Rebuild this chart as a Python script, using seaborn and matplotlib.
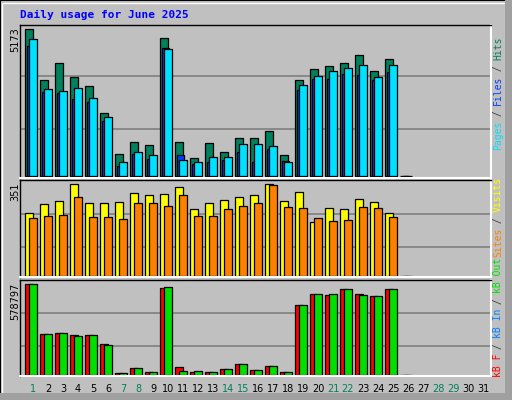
import numpy as np
import matplotlib
matplotlib.use("Agg")
import matplotlib.pyplot as plt
import seaborn as sns
from matplotlib.patches import Rectangle

sns.set_style("white")
plt.rcParams['font.family'] = ['DejaVu Sans']

days = list(range(1, 32))
weekend_days = [1, 7, 8, 14, 15, 21, 22, 28, 29]
max_hits, max_visits, max_kb = 5173, 351, 578797
hits_f = [1.0,.653,.769,.673,.612,.429,.150,.231,.211,.939,.231,.122,.224,.163,.259,.259,.306,.143,.653,.728,.748,.769,.823,.714,.796,0]
files_f = [.887,.571,.565,.524,.503,.374,.068,.150,.116,.871,.143,.082,.095,.109,.163,.095,.184,.102,.585,.660,.660,.694,.687,.653,.707,0]
pages_f = [.932,.592,.578,.599,.531,.401,.095,.163,.143,.864,.109,.095,.129,.129,.218,.218,.204,.095,.619,.680,.714,.735,.755,.673,.755,0]
visits_f = [.684,.782,.815,1.0,.793,.793,.804,.902,.880,.891,.967,.727,.793,.825,.858,.880,1.0,.815,.913,.585,.738,.727,.836,.804,.684,0]
sites_f = [.629,.651,.662,.858,.640,.640,.618,.793,.793,.760,.880,.651,.651,.727,.760,.793,.989,.749,.738,.629,.596,.607,.749,.738,.640,0]
kbf_f = [1.0,.449,.460,.438,.438,.339,.022,.077,.033,.953,.088,.033,.033,.066,.120,.055,.099,.033,.766,.887,.876,.942,.887,.865,.942,0]
kbout_f = [1.0,.449,.460,.427,.438,.328,.022,.077,.033,.964,.044,.044,.033,.066,.120,.055,.099,.033,.766,.887,.887,.942,.876,.865,.942,0]

hits = np.round(np.array(hits_f) * max_hits)
files = np.round(np.array(files_f) * max_hits)
pages = np.round(np.array(pages_f) * max_hits)
visits = np.round(np.array(visits_f) * max_visits)
sites = np.round(np.array(sites_f) * max_visits)
kbf = np.round(np.array(kbf_f) * max_kb)
kbout = np.round(np.array(kbout_f) * max_kb)

BG = "#c0c0c0"
W, H = 512, 400
fig = plt.figure(figsize=(5.12, 4.0), dpi=100, facecolor=BG)

# bevel frame
fig.patches.append(Rectangle((0, 0), 1, 1, transform=fig.transFigure, fill=False, ec="black", lw=1.5))
fig.patches.append(Rectangle((2/W, 2/H), 1-5/W, 1-5/H, transform=fig.transFigure, fill=False, ec="white", lw=1))
fig.patches.append(Rectangle((0, 0), 1, 7/H, transform=fig.transFigure, fc="#a0a0a0", ec="none"))
fig.patches.append(Rectangle((1-7/W, 0), 7/W, 1, transform=fig.transFigure, fc="#a0a0a0", ec="none"))

L, R = 20, 491
xl = ((L - 25) / 15, (R - 25) / 15)
x0 = np.arange(len(hits))

def make_ax(top, bot, base, maxtop, vmax):
    ax = fig.add_axes([L/W, 1-bot/H, (R-L)/W, (bot-top)/H])
    ax.set_facecolor(BG)
    scale = vmax / (base - maxtop)
    ax.set_ylim(-(bot - base) * scale, vmax + (maxtop - top) * scale)
    ax.set_xlim(*xl)
    ax.set_xticks([]); ax.set_yticks([])
    for f in (0.32, 0.68):
        ax.axhline(vmax * f, color="#808080", lw=1.2, zorder=0)
    for s in ("left", "top"):
        ax.spines[s].set_color("black"); ax.spines[s].set_linewidth(1)
    for s in ("right", "bottom"):
        ax.spines[s].set_color("white"); ax.spines[s].set_linewidth(1.5)
    return ax

kw = dict(align="edge", edgecolor="black", linewidth=0.9)
ax1 = make_ax(25, 178, 176.3, 29.3, max_hits)
ax1.bar(x0, hits, width=0.53, color="#00805c", **kw)
ax1.bar(x0 + 0.13, files, width=0.47, color="#0040ff", **kw)
ax1.bar(x0 + 0.27, pages, width=0.53, color="#00e0ff", **kw)

ax2 = make_ax(180, 277, 276, 184.3, max_visits)
ax2.bar(x0, visits, width=0.55, color="#ffff00", **kw)
ax2.bar(x0 + 0.28, sites, width=0.5, color="#ff8000", **kw)

ax3 = make_ax(280, 376, 375.3, 284, max_kb)
ax3.bar(x0, kbf, width=0.55, color="#ff0000", **kw)
ax3.bar(x0 + 0.28, kbout, width=0.5, color="#00e000", **kw)

# title
fig.text(20/W, 1-15/H, "Daily usage for June 2025", color="#0000ff", fontsize=8,
         fontweight="bold", family="DejaVu Sans Mono", va="center", ha="left")

# y max labels
for txt, ytop in (("5173", 27), ("351", 182), ("578797", 283)):
    fig.text(15/W, 1-ytop/H, txt, rotation=90, fontsize=7, va="top", ha="center", color="black")

# day labels
for d in days:
    fig.text((25 + 15*(d-1) + 8)/W, 1-389/H, str(d), fontsize=7, ha="center", va="center",
             color="#00805c" if d in weekend_days else "black")

# right legends (rotated, bottom-up)
cw = 5.6
def legend(parts, ybottom):
    y = ybottom
    for t, c in parts:
        fig.text(498/W, 1-y/H, t, rotation=90, fontsize=7, family="DejaVu Sans Mono",
                 color=c, ha="center", va="bottom")
        y -= cw * len(t)

legend([("Pages", "#00e0ff"), (" / ", "#404040"), ("Files", "#0040ff"), (" / ", "#404040"), ("Hits", "#00805c")], 150)
legend([("Sites", "#ff8000"), (" / ", "#404040"), ("Visits", "#ffff00")], 257)
legend([("kB F", "#ff0000"), (" / ", "#404040"), ("kB In", "#0080ff"), (" / ", "#404040"), ("kB Out", "#00e000")], 377)

fig.savefig("out.png", dpi=100, facecolor=BG)
